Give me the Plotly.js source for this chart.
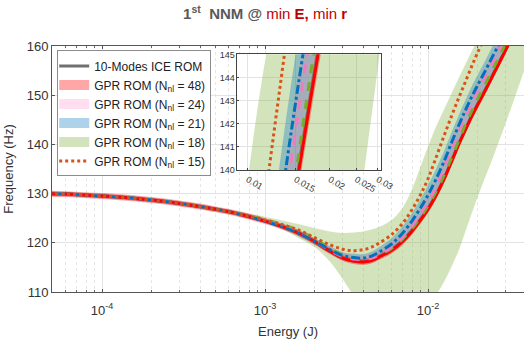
<!DOCTYPE html>
<html><head><meta charset="utf-8">
<script src="https://cdn.plot.ly/plotly-3.0.1.min.js"></script>
<style>html,body{margin:0;padding:0;background:#fff;}#chart{width:524px;height:341px;}</style>
</head><body><div id="chart"></div>
<script>
// Energy grid (J)
const energy = [4e-5,6e-5,1e-4,1.5e-4,2e-4,3e-4,5e-4,7e-4,1e-3,1.3e-3,1.6e-3,2e-3,2.5e-3,3e-3,3.5e-3,4e-3,4.5e-3,5e-3,6e-3,7e-3,8e-3,9e-3,0.01,0.011,0.0125,0.014,0.0155,0.017,0.0185,0.02,0.0225,0.025,0.0275,0.03,0.033,0.036,0.04];
// 10-Modes ICE ROM (Hz)
const iceFreq = [130.0,129.9,129.5,129.1,128.7,128.0,126.8,125.8,124.4,123.2,122.0,120.3,118.3,116.9,116.3,116.1,116.4,117.1,118.6,120.5,122.6,124.8,127.0,129.3,133.0,136.8,140.3,143.2,145.8,148.0,151.2,154.2,156.9,159.4,162.1,164.5,167.3];
// GPR ROM N=48
const gpr48 = [130.0,129.9,129.5,129.1,128.7,128.0,126.8,125.8,124.4,123.2,122.0,120.3,118.3,116.9,116.3,116.1,116.4,117.1,118.5,120.3,122.4,124.6,126.8,129.1,132.8,136.6,140.1,143.0,145.6,147.8,151.0,154.0,156.7,159.2,161.9,164.3,167.1];
const gpr48Half = [0.6,0.6,0.6,0.6,0.6,0.6,0.6,0.6,0.6,0.6,0.6,0.6,0.6,0.6,0.6,0.6,0.6,0.6,0.7,0.7,0.7,0.7,0.7,0.7,0.7,0.7,0.7,0.7,0.7,0.7,0.7,0.7,0.7,0.7,0.7,0.7,0.7];
// GPR ROM N=24
const gpr24 = [130.0,129.9,129.5,129.1,128.7,128.0,126.8,125.8,124.5,123.3,122.1,120.4,118.5,117.2,116.7,116.6,116.9,117.6,119.2,121.2,123.5,125.9,128.3,130.8,135.2,139.2,142.8,145.8,148.4,150.7,153.9,156.9,159.6,162.1,164.8,167.2,170.0];
const gpr24Half = [0.5,0.5,0.5,0.5,0.5,0.5,0.5,0.5,0.5,0.5,0.5,0.6,0.7,0.8,0.9,0.9,1.0,1.0,1.1,1.2,1.3,1.4,1.5,1.6,1.6,1.7,1.7,1.8,1.8,1.8,1.8,1.8,1.8,1.8,1.8,1.8,1.8];
// GPR ROM N=21
const gpr21 = [130.0,129.9,129.5,129.1,128.7,128.0,126.8,125.8,124.4,123.2,122.0,120.4,118.6,117.4,117.0,116.9,117.3,118.1,119.8,122.0,124.5,127.1,129.7,132.4,136.4,140.5,144.0,147.0,149.6,151.8,155.0,158.0,160.6,163.1,165.8,168.2,171.0];
const gpr21Down = [0.4,0.4,0.4,0.4,0.4,0.4,0.4,0.4,0.4,0.5,0.6,0.7,0.8,0.9,1.0,1.0,1.1,1.2,1.5,1.8,2.2,2.6,3.0,3.2,3.4,3.4,3.4,3.4,3.4,3.4,3.4,3.4,3.4,3.4,3.4,3.4,3.4];
const gpr21Up = [0.4,0.4,0.4,0.4,0.4,0.4,0.4,0.4,0.4,0.5,0.6,0.6,0.7,0.7,0.8,0.8,0.9,1.0,1.2,1.4,1.6,1.8,2.0,2.1,2.1,2.1,2.1,2.1,2.1,2.1,2.1,2.1,2.1,2.1,2.1,2.1,2.1];
// GPR ROM N=18
const gpr18 = [130.0,129.9,129.5,129.1,128.7,128.0,126.8,125.9,124.7,123.6,122.5,120.9,118.9,117.5,116.9,116.7,116.9,117.5,118.9,120.8,122.9,125.2,127.5,129.9,133.6,137.4,140.9,144.1,146.7,149.0,152.3,155.3,158.0,160.5,163.2,165.6,168.4];
const gpr18Lo = [129.6,129.5,129.1,128.7,128.3,127.6,126.4,125.4,124.0,122.6,121.0,119.2,116.2,112.6,109.2,106.5,104.5,103.0,101.5,101.5,102.8,104.8,106.9,108.9,112.0,115.3,118.6,122.4,125.9,129.0,133.4,137.3,141.0,144.4,148.2,151.8,156.2];
const gpr18Hi = [130.4,130.3,129.9,129.5,129.1,128.4,127.2,126.3,125.3,124.5,123.8,123.0,122.3,122.0,122.1,122.3,122.7,123.2,124.7,127.2,131.0,135.5,139.5,143.0,147.0,150.5,153.6,156.4,158.9,161.2,164.5,167.5,170.2,172.8,175.6,178.1,181.1];
// GPR ROM N=15
const gpr15 = [130.0,129.9,129.5,129.1,128.7,128.0,126.8,125.8,124.6,123.6,122.6,121.1,119.6,118.7,118.4,118.6,119.1,119.9,121.7,124.0,126.8,129.8,133.0,136.6,141.6,145.9,149.6,152.8,155.8,158.4,162.2,165.6,168.7,171.5,174.5,177.2,180.3];

const legendNames = ['10-Modes ICE ROM','GPR ROM (N<sub>nl</sub> = 48)','GPR ROM (N<sub>nl</sub> = 24)','GPR ROM (N<sub>nl</sub> = 21)','GPR ROM (N<sub>nl</sub> = 18)','GPR ROM (N<sub>nl</sub> = 15)'];
const xTickVals = [1e-4,1e-3,1e-2];
const xTickText = ['10<sup>-4</sup>','10<sup>-3</sup>','10<sup>-2</sup>'];
const insetTickVals = [0.01,0.015,0.02,0.025,0.03];
const insetTickText = ['0.01','0.015','0.02','0.025','0.03'];

const C = {
  red:'#FF0000', redBand:'rgba(255,0,0,0.35)',
  pink:'#F07CC0', pinkBand:'rgba(255,105,180,0.22)',
  blue:'#0072BD', blueBand:'rgba(0,114,189,0.32)',
  green:'#77AC30', greenBand:'rgba(119,172,48,0.32)',
  orange:'#D95319', grey:'#707070'
};

function add(sub, arr){
  const xa = sub ? 'x2':'x', ya = sub ? 'y2':'y';
  function band(lo, hi, color){
    arr.push({x:energy,y:hi,xaxis:xa,yaxis:ya,mode:'lines',line:{width:0,shape:'spline'},showlegend:false,hoverinfo:'skip'});
    arr.push({x:energy,y:lo,xaxis:xa,yaxis:ya,mode:'lines',line:{width:0,shape:'spline'},fill:'tonexty',fillcolor:color,showlegend:false,hoverinfo:'skip'});
  }
  band(gpr18Lo, gpr18Hi, C.greenBand);
  band(gpr21.map((v,i)=>v-gpr21Down[i]), gpr21.map((v,i)=>v+gpr21Up[i]), C.blueBand);
  band(gpr24.map((v,i)=>v-gpr24Half[i]), gpr24.map((v,i)=>v+gpr24Half[i]), C.pinkBand);
  band(gpr48.map((v,i)=>v-gpr48Half[i]), gpr48.map((v,i)=>v+gpr48Half[i]), C.redBand);
  function line(y, color, dash, w){
    arr.push({x:energy,y:y,xaxis:xa,yaxis:ya,mode:'lines',line:{color:color,width:w,dash:dash,shape:'spline'},showlegend:false});
  }
  line(iceFreq, C.grey, 'solid', 3);
  line(gpr48, C.red, 'solid', 3);
  line(gpr18, C.green, 'dash', 3);
  line(gpr24, C.pink, 'dash', 3);
  line(gpr21, C.blue, 'dashdot', 3);
  line(gpr15, C.orange, 'dot', 3);
}

const traces = [];
add(false, traces);
add(true, traces);
// legend entries
const legColors = [C.grey, C.redBand, C.pinkBand, C.blueBand, C.greenBand, C.orange];
const legWidths = [3, 12, 12, 12, 12, 3];
const legDash = ['solid','solid','solid','solid','solid','dot'];
legendNames.forEach((n,i)=>{
  traces.push({x:[null],y:[null],mode:'lines',name:n,line:{color:legColors[i],width:legWidths[i],dash:legDash[i]},showlegend:true,legendrank:i+1});
});

const minorVals = [];
[1e-5,1e-4,1e-3,1e-2].forEach(d=>{for(let k=2;k<=9;k++) minorVals.push(k*d);});

const F = 'Liberation Sans, Arial, sans-serif';
const layout = {
  width:524, height:341,
  margin:{l:52,r:0,t:46,b:49},
  paper_bgcolor:'#fff', plot_bgcolor:'#fff',
  font:{family:F, size:12, color:'#333'},
  title:{text:"<b>1<sup>st</sup>  NNM @ </b><span style='color:#C00000'>min <b>E,</b> min <b>r</b></span>",
         font:{family:F,size:15,color:'#595959'}, xref:'container', x:0.506, xanchor:'center', yref:'container', y:0.96, yanchor:'middle'},
  showlegend:true,
  legend:{x:0.011,y:0.982,xanchor:'left',yanchor:'top',bgcolor:'#fff',bordercolor:'#8c8c8c',borderwidth:1,
          font:{family:F,size:12,color:'#222'},tracegroupgap:0,traceorder:'normal',itemwidth:30,indentation:-4},
  xaxis:{type:'log', range:[-4.307,-1.411], tickmode:'array', tickvals:xTickVals, ticktext:xTickText,
         tickfont:{size:13,color:'#333'}, ticks:'inside', ticklen:3, tickcolor:'#555',
         showline:true, linecolor:'#555', linewidth:1, mirror:'allticks',
         showgrid:true, gridcolor:'#e3e3e3', gridwidth:1, zeroline:false, ticklabelstandoff:6,
         minor:{tickmode:'array', tickvals:minorVals, ticks:'inside', ticklen:2, tickcolor:'#666', showgrid:true, gridcolor:'#e6e6e6', griddash:'dot'},
         title:{text:'Energy (J)', font:{size:13,color:'#333'}, standoff:10}},
  yaxis:{range:[110,160], tickmode:'array', tickvals:[110,120,130,140,150,160],
         tickfont:{size:13,color:'#333'}, ticks:'inside', ticklen:3, tickcolor:'#555',
         showline:true, linecolor:'#555', linewidth:1, mirror:false,
         showgrid:true, gridcolor:'#e3e3e3', zeroline:false,
         title:{text:'Frequency (Hz)', font:{size:13,color:'#333'}, standoff:10}},
  xaxis2:{type:'log', domain:[0.393,0.696], anchor:'y2', range:[Math.log10(0.0092),Math.log10(0.0307)],
          tickmode:'array', tickvals:insetTickVals, ticktext:insetTickText, tickfont:{size:9,color:'#333'},
          ticks:'inside', ticklen:2, showline:true, linecolor:'#444', mirror:true,
          showgrid:true, gridcolor:'#e3e3e3', zeroline:false},
  yaxis2:{domain:[0.496,0.966], anchor:'x2', range:[140,145], tickmode:'array', tickvals:[140,141,142,143,144,145],
          tickfont:{size:9,color:'#333'}, ticks:'inside', ticklen:2, showline:true, linecolor:'#444', mirror:true,
          showgrid:true, gridcolor:'#e3e3e3', zeroline:false}
};
Plotly.newPlot('chart', traces, layout, {staticPlot:true});
</script></body></html>
